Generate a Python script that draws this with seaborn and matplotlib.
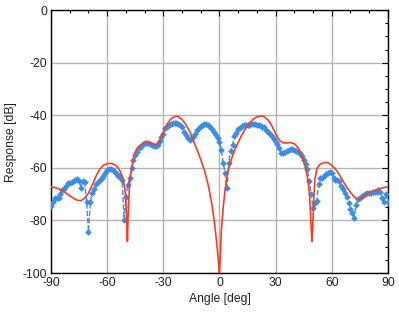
import numpy as np
import matplotlib
matplotlib.use("Agg")
import matplotlib.pyplot as plt
import seaborn as sns
from matplotlib.ticker import MultipleLocator

sns.set_theme(style="white")
plt.rcParams['font.family'] = ['Liberation Sans', 'DejaVu Sans']
plt.rcParams['axes.unicode_minus'] = False

# measured response, one point per degree from -90 to 90
meas_angle = list(range(-90, 91))
meas_db = [
    -74.5, -73.0, -71.6, -71.5, -71.4, -70.0, -68.5, -68.0, -67.0, -65.7,   # -90..-81
    -65.7, -65.5, -65.0, -64.5, -64.1, -65.0, -67.5, -65.0, -65.5, -73.0,   # -80..-71
    -84.3, -73.0, -69.5, -68.0, -66.2, -65.5, -64.5, -64.0, -63.2, -62.0,   # -70..-61
    -60.8, -60.3, -60.5, -61.0, -61.5, -62.3, -63.0, -63.5, -64.6, -79.8,   # -60..-51
    -71.0, -66.5, -64.0, -60.0, -57.0, -55.0, -53.9, -52.5, -52.0, -51.0,   # -50..-41
    -50.4, -50.4, -50.6, -50.8, -51.2, -51.5, -51.7, -51.3, -49.8, -48.2,   # -40..-31
    -47.0, -45.0, -44.5, -43.7, -43.4, -43.1, -43.0, -42.8, -43.2, -43.8,   # -30..-21
    -44.5, -46.3, -47.5, -48.8, -49.4, -49.0, -48.2, -47.3, -45.5, -44.7,   # -20..-11
    -44.0, -43.6, -43.4, -43.4, -43.7, -44.3, -45.3, -46.3, -47.5, -48.8,   # -10..-1
    -50.0,                                                                  # 0
    -53.2, -58.0, -62.0, -67.8, -58.0, -53.5, -51.3, -48.0, -46.9, -45.3,   # 1..10
    -44.7, -44.0, -43.7, -43.6, -43.6, -43.6, -43.5, -43.5, -43.5, -43.6,   # 11..20
    -43.8, -44.0, -44.3, -44.5, -45.5, -46.3, -47.0, -47.9, -49.0, -50.0,   # 21..30
    -51.0, -52.5, -54.5, -54.2, -53.9, -53.5, -53.2, -53.0, -53.0, -53.2,   # 31..40
    -53.5, -54.0, -54.5, -55.5, -57.0, -58.5, -60.5, -65.0, -70.0, -75.4,   # 41..50
    -73.5, -72.5, -66.0, -64.0, -63.7, -63.0, -62.5, -62.0, -61.5, -62.0,   # 51..60
    -64.0, -64.8, -64.5, -65.0, -67.0, -68.0, -69.5, -71.0, -73.5, -75.5,   # 61..70
    -77.0, -79.0, -74.0, -72.0, -71.5, -70.8, -70.5, -70.0, -69.7, -69.5,   # 71..80
    -69.5, -69.2, -69.0, -69.2, -68.5, -69.0, -71.6, -72.9, -70.0, -73.0,   # 81..90
]

# simulated response
sim_angle = [
    -90, -88, -86, -84, -82, -80, -78, -76, -74, -72, -70, -68, -66, -64, -62,
    -60, -58, -56, -55, -54, -53, -52, -51, -50.5, -50, -49.6, -49.2, -48.8,
    -48, -47, -46, -45, -44, -42, -40, -38, -36, -35, -34, -33, -32, -30, -28,
    -26, -24, -23, -22, -20, -18, -16, -14, -12, -10, -8, -6, -4, -3, -2, -1,
    -0.5, 0, 0.5, 1, 2, 3, 4, 5, 6, 8, 10, 12, 14, 16, 18, 20, 22, 23, 24, 26,
    28, 30, 32, 34, 36, 38, 40, 42, 44, 45, 46, 47, 48, 48.6, 49.1, 49.5, 49.9,
    50.4, 51, 52, 53, 54, 56, 58, 60, 62, 64, 66, 68, 70, 72, 74, 75, 76, 78,
    80, 82, 84, 86, 88, 90,
]
sim_db = [
    -67.3, -67.5, -67.9, -68.6, -69.6, -70.6, -71.6, -72.3, -72.5, -71.5, -69.6,
    -66.5, -63.2, -60.6, -59.0, -58.4, -58.3, -58.8, -59.4, -60.2, -61.4, -63.2,
    -66.0, -68.5, -73.0, -80.0, -88.0, -78.0, -65.5, -60.3, -56.3, -54.0, -52.5,
    -51.2, -50.4, -50.2, -50.7, -51.0, -51.1, -50.6, -49.6, -46.4, -43.4, -41.4,
    -40.5, -40.3, -40.5, -41.6, -43.5, -46.0, -49.5, -53.0, -56.8, -61.0, -66.5,
    -74.0, -79.0, -85.0, -92.0, -96.0, -100.0, -93.0, -84.0, -75.0, -68.5,
    -63.5, -60.0, -57.5, -53.5, -50.3, -47.4, -45.0, -43.0, -41.5, -40.6, -40.3,
    -40.3, -40.6, -41.8, -44.0, -47.0, -49.5, -50.5, -50.5, -50.4, -50.8, -52.3,
    -55.5, -57.5, -60.0, -63.5, -69.0, -76.0, -84.0, -88.0, -82.0, -72.0, -64.5,
    -60.5, -59.2, -58.6, -58.0, -58.0, -59.0, -60.5, -62.5, -65.0, -67.3, -69.3,
    -71.0, -72.0, -72.0, -71.5, -70.5, -69.5, -68.8, -68.3, -67.8, -67.5, -67.2,
]

fig, ax = plt.subplots(figsize=(3.99, 3.16), dpi=100)
fig.subplots_adjust(left=0.128, right=0.972, top=0.968, bottom=0.136)

sns.lineplot(x=meas_angle, y=meas_db, ax=ax, color='#3a8ee8', linestyle='--',
             linewidth=1.0, marker='D', markersize=3.4, markeredgewidth=0,
             zorder=3)
sns.lineplot(x=sim_angle, y=sim_db, ax=ax, color='#ff3b1f', linewidth=1.2,
             sort=False, zorder=4)

ax.set_xlim(-90, 90)
ax.set_ylim(-100, 0)
ax.xaxis.set_major_locator(MultipleLocator(30))
ax.xaxis.set_minor_locator(MultipleLocator(10))
ax.yaxis.set_major_locator(MultipleLocator(20))
ax.yaxis.set_minor_locator(MultipleLocator(5))
ax.grid(True, which='major', color='#b4b4b4', linewidth=1.0)
ax.set_axisbelow(True)
ax.tick_params(which='both', direction='in', top=True, right=True,
               color='black', labelsize=8.7, pad=3, labelcolor='#222222')
ax.tick_params(which='major', length=4, width=0.8)
ax.tick_params(which='minor', length=2.5, width=0.8)
for s in ax.spines.values():
    s.set_color('black')
    s.set_linewidth(1.0)

ax.set_xlabel('Angle [deg]', fontsize=8.7, labelpad=3, color='#222222')
ax.set_ylabel('Response [dB]', fontsize=8.7, labelpad=4, color='#222222')

fig.savefig('out.png', dpi=100, facecolor='white')
